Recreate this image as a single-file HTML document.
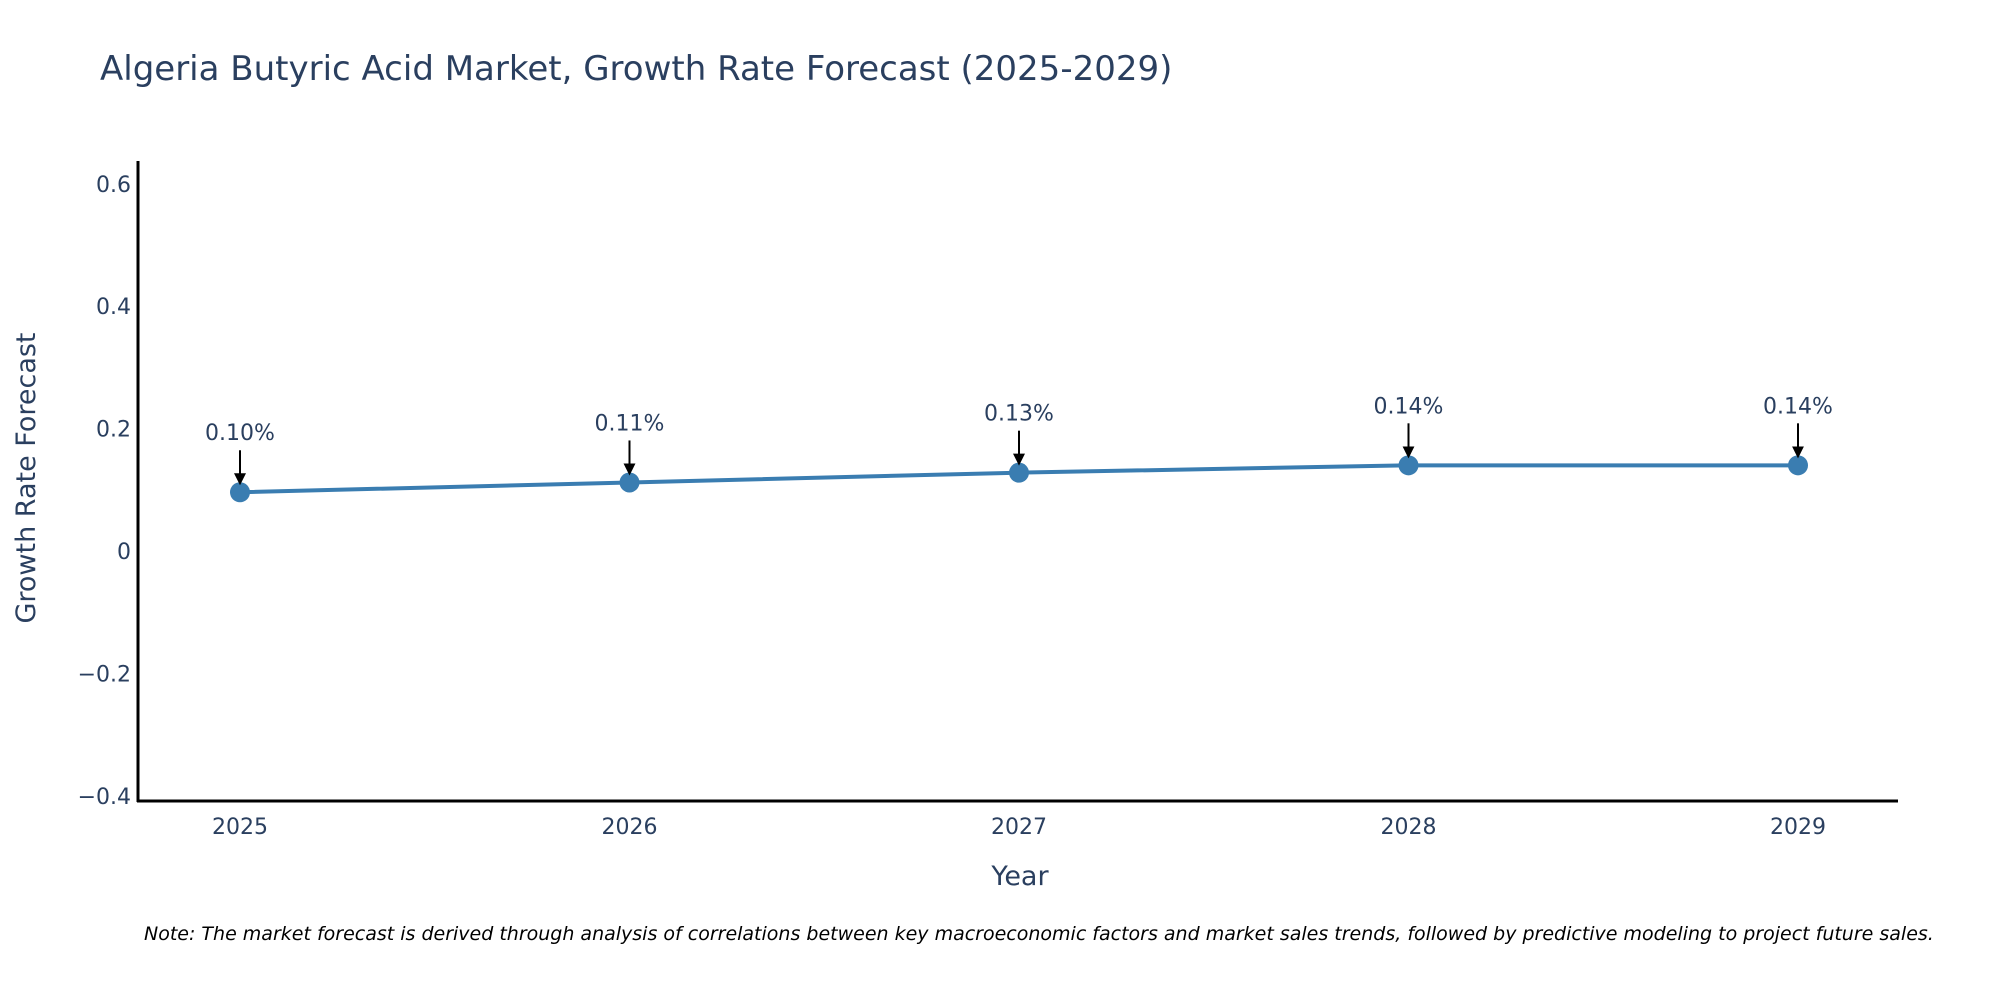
<!DOCTYPE html>
<html><head><meta charset="utf-8"><style>
body{margin:0;background:#fff;}
svg text{font-family:"DejaVu Sans","Liberation Sans",sans-serif;fill:#2a3f5f;}
</style></head><body>
<svg id="chart" width="2000" height="1000" xmlns="http://www.w3.org/2000/svg">
<text x="100" y="80" font-size="34">Algeria Butyric Acid Market, Growth Rate Forecast (2025-2029)</text>
<g id="yticks"></g><g id="xticks"></g>
<line x1="138" y1="161" x2="138" y2="802" stroke="#000" stroke-width="3"/>
<line x1="137" y1="801" x2="1898" y2="801" stroke="#000" stroke-width="3"/>
<text transform="translate(35,478) rotate(-90)" text-anchor="middle" font-size="27">Growth Rate Forecast</text>
<text x="1020" y="885" text-anchor="middle" font-size="27">Year</text>
<path id="line" fill="none" stroke="#3a7db1" stroke-width="4"/>
<g id="marks"></g>
<defs><marker id="ah" markerWidth="6" markerHeight="6" refX="5" refY="3" orient="auto"><path d="M0,0 L6,3 L0,6 z" fill="#000"/></marker></defs>
<text x="144" y="940" font-size="19" font-style="italic" style="fill:#000">Note: The market forecast is derived through analysis of correlations between key macroeconomic factors and market sales trends, followed by predictive modeling to project future sales.</text>
</svg>
<script>
const years=[2025,2026,2027,2028,2029];
const values=[0.096,0.112,0.128,0.140,0.140];
const labels=["0.10%","0.11%","0.13%","0.14%","0.14%"];
const yTickVals=[-0.4,-0.2,0,0.2,0.4,0.6];
const yTickText=["\u22120.4","\u22120.2","0","0.2","0.4","0.6"];
const ns="http://www.w3.org/2000/svg";
const X=v=>240+(v-2025)*389.5;
const Y=v=>551-v*612;
function mk(t,a,p){const e=document.createElementNS(ns,t);for(const k in a)e.setAttribute(k,a[k]);p.appendChild(e);return e;}
const yt=document.getElementById('yticks');
yTickVals.forEach((v,i)=>{const t=mk('text',{x:131,y:Y(v)+8,'text-anchor':'end','font-size':22},yt);t.textContent=yTickText[i];

});
const xt=document.getElementById('xticks');
years.forEach(y=>{const t=mk('text',{x:X(y),y:834,'text-anchor':'middle','font-size':22},xt);t.textContent=y;

});
document.getElementById('line').setAttribute('d',years.map((y,i)=>(i?'L':'M')+X(y)+','+Y(values[i])).join(' '));
const g=document.getElementById('marks');
years.forEach((y,i)=>{const cx=X(y),cy=Y(values[i]);
const c=mk('circle',{cx:cx,cy:cy,r:10,fill:'#3a7db1'},g);


const l=mk('line',{x1:cx,y1:cy-42,x2:cx,y2:cy-9,stroke:'#000','stroke-width':2,'marker-end':'url(#ah)'},g);


const t=mk('text',{x:cx,y:cy-52,'text-anchor':'middle','font-size':22},g);t.textContent=labels[i];

});
</script>
</body></html>
